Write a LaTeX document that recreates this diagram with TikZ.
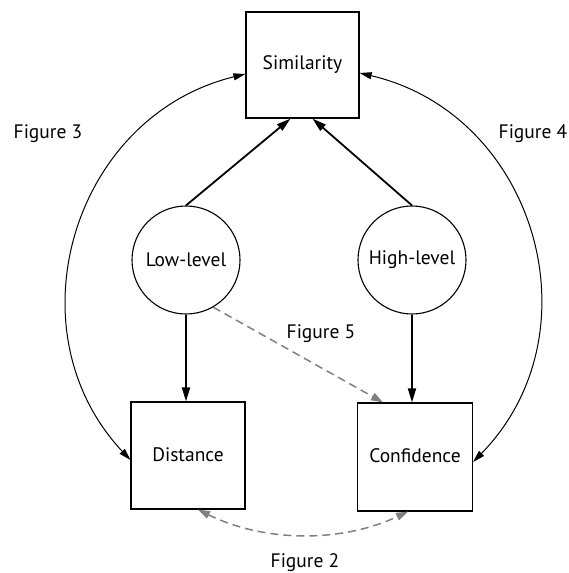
\documentclass[tikz,border=0pt]{standalone}
\usepackage{fontspec}
\setmainfont{PT Sans}
\usetikzlibrary{arrows.meta}
\definecolor{dashgrey}{RGB}{128,128,128}
\begin{document}
\begin{tikzpicture}[x=1pt,y=-1pt,
  txt/.style={font=\fontsize{19.5}{22}\selectfont, inner sep=0pt},
  box/.style={draw, line width=1.2pt, minimum width=114pt, minimum height=107pt, inner sep=0pt, font=\fontsize{19.5}{22}\selectfont},
  circ/.style={draw, circle, line width=1.1pt, minimum size=108pt, inner sep=0pt, font=\fontsize{19.5}{22}\selectfont},
  thickarrow/.style={line width=1.8pt, -{Triangle[length=14pt,width=8pt]}},
  thinarrow/.style={line width=1pt, {Triangle[length=12pt,width=7pt]}-{Triangle[length=12pt,width=7pt]}},
  greyarrow/.style={dashgrey, line width=1.5pt, dash pattern=on 8pt off 5pt, -{Triangle[length=12pt,width=8pt]}},
  greydouble/.style={dashgrey, line width=1.5pt, dash pattern=on 8pt off 5pt, {Triangle[length=12pt,width=8pt]}-{Triangle[length=12pt,width=8pt]}}
]
\useasboundingbox (0,0) rectangle (568,573);
\node[box, minimum width=113pt, minimum height=106pt] (sim) at (302.5,65) {Similarity};
\node[circ] (low) at (186,260) {Low-level};
\node[circ] (high) at (412,260) {High-level};
\node[box] (dist) at (188,455.5) {\raisebox{2pt}{Distance}};
\node[box, minimum width=115pt, minimum height=108pt] (conf) at (415,457) {\raisebox{3pt}{Confidence}};

\node[txt] (f3) at (48,134) {Figure 3};
\node[txt] (f4) at (533,134) {Figure 4};
\node[txt] (f5) at (321,334) {Figure 5};
\node[txt] (f2) at (305,563) {Figure 2};

\draw[thickarrow] (low.north) -- ([xshift=-12pt]sim.south);
\draw[thickarrow] (high.north) -- ([xshift=10pt]sim.south);
\draw[thickarrow] (low.south) -- (low.south |- dist.north);
\draw[thickarrow] (high.south) -- (high.south |- conf.north);

\draw[greyarrow] (low.-60) -- ([xshift=-32pt]conf.north);
\draw[greydouble] ([xshift=10pt]dist.south) to[bend right=25.7, looseness=0.9] ([xshift=-7pt]conf.south);

\draw[thinarrow] ([yshift=-9pt]sim.west) to[bend right=59.7, looseness=1.13] ([yshift=-4.5pt]dist.west);
\draw[thinarrow] ([yshift=-8pt]sim.east) to[bend left=60.6, looseness=1.14] ([yshift=-5pt]conf.east);
\end{tikzpicture}
\end{document}
